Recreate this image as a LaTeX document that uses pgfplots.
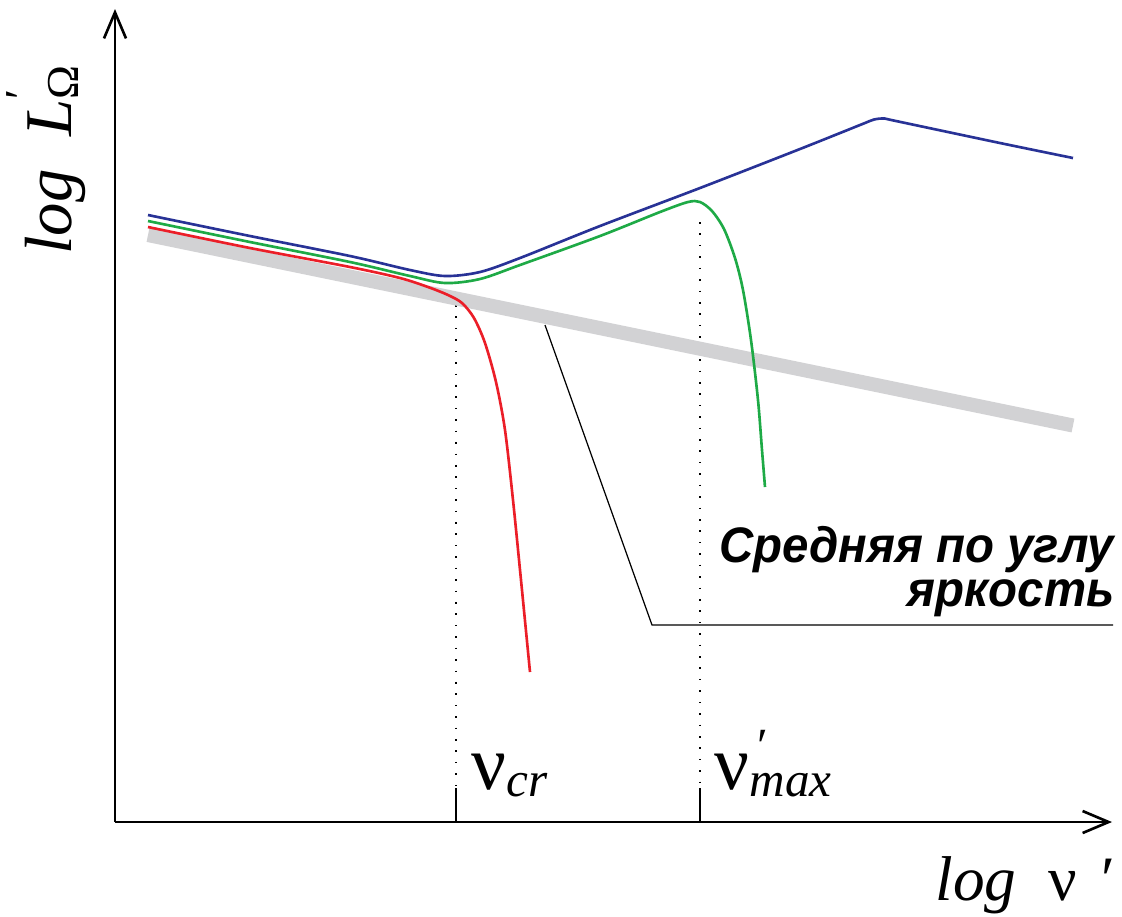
\documentclass[border=0pt]{standalone}
\usepackage{pgfplots}
\pgfplotsset{compat=1.18}
\usetikzlibrary{arrows.meta}
\usepackage{fontspec}
\setmainfont{Liberation Serif}
\newfontfamily\rusfont{Liberation Sans}
\definecolor{cblue}{RGB}{40,50,150}
\definecolor{cgreen}{RGB}{30,170,70}
\definecolor{cred}{RGB}{235,30,40}
\definecolor{cgray}{RGB}{210,210,212}
\newcommand{\sub}[1]{\raisebox{-2pt}{\fontsize{14}{15}\selectfont\itshape #1}}
\newcommand{\prm}{\rlap{\raisebox{7.5pt}{\fontsize{14}{15}\selectfont\,′}}}
\newcommand{\rus}[1]{\scalebox{0.95}[1]{\rusfont\bfseries\itshape\fontsize{14.2}{15}\selectfont #1}}
\begin{document}
\begin{tikzpicture}
\begin{axis}[
  scale only axis, width=11.22cm, height=9.16cm,
  xmin=0, xmax=1122, ymin=0, ymax=916, y dir=reverse,
  hide axis, clip=false,
]
\coordinate (ll) at (axis cs:0,916);
\coordinate (ur) at (axis cs:1122,0);
% axes
\addplot[line width=0.75pt, -{Straight Barb[length=2.6mm,width=2.2mm,line width=0.75pt]}] coordinates {(115,822) (115,9)};
\addplot[line width=0.75pt, -{Straight Barb[length=2.6mm,width=2.2mm,line width=0.75pt]}] coordinates {(115,822) (1112,822)};
% ticks
\addplot[line width=0.75pt] coordinates {(456,788) (456,822)};
\addplot[line width=0.75pt] coordinates {(700,788) (700,822)};
% dotted guides
\addplot[line width=0.45pt, dash pattern=on 0.45pt off 2.8pt] coordinates {(456,305) (456,788)};
\addplot[line width=0.45pt, dash pattern=on 0.45pt off 2.8pt] coordinates {(700,222) (700,788)};
% gray line
\addplot[cgray, line width=4pt] coordinates {(148,235) (1073,425.5)};
% annotation leader
\addplot[line width=0.35pt] coordinates {(545,325) (652,625) (1113,625)};
% blue
\addplot[cblue, line width=0.75pt, smooth] coordinates {
(148,215) (250,236) (350,256) (410,270) (445,276) (480,272) (520,258)
(600,226) (700,188) (800,149) (860,125) (874,119.5) (884,118.5) (896,121)
(1000,143) (1073,158)};
% green
\addplot[cgreen, line width=0.75pt, smooth] coordinates {
(148,221) (250,242) (350,262) (410,276) (445,283) (480,279) (520,265)
(600,236) (660,212) (688,202) (700,202) (712,211) (724,229) (735,258) (743,290)
(751,340) (758,400) (762,450) (765,487)};
% red
\addplot[cred, line width=0.75pt, smooth] coordinates {
(148,227) (250,248) (350,267) (400,278) (428,287) (448,295) (462,303)
(474,318) (485,343) (496,382) (505,430) (513,500) (521,580) (530,672)};
% labels
\node[rotate=90, font=\fontsize{19}{22}\selectfont] at (axis cs:46,160) {\textit{log} \ \textit{L}\rlap{\raisebox{10pt}{\fontsize{13}{13}\selectfont ′}}\raisebox{-2pt}{\fontsize{13}{13}\selectfont Ω}};
\node[anchor=base west, font=\fontsize{18}{22}\selectfont, inner sep=0pt] at (axis cs:935,900) {\textit{log}\hspace{9pt}ν\hspace{7pt}′};
\node[anchor=base west, font=\fontsize{22}{24}\selectfont, inner sep=0pt] at (axis cs:471,789) {ν\sub{cr}};
\node[anchor=base west, font=\fontsize{22}{24}\selectfont, inner sep=0pt] at (axis cs:714,789) {ν\prm\sub{max}};
\node[anchor=base east, inner sep=0pt] at (axis cs:1115,562) {\rus{Средняя по углу}};
\node[anchor=base east, inner sep=0pt] at (axis cs:1115,606) {\rus{яркость}};
\end{axis}
\pgfresetboundingbox
\path (ll) rectangle (ur);
\end{tikzpicture}
\end{document}
